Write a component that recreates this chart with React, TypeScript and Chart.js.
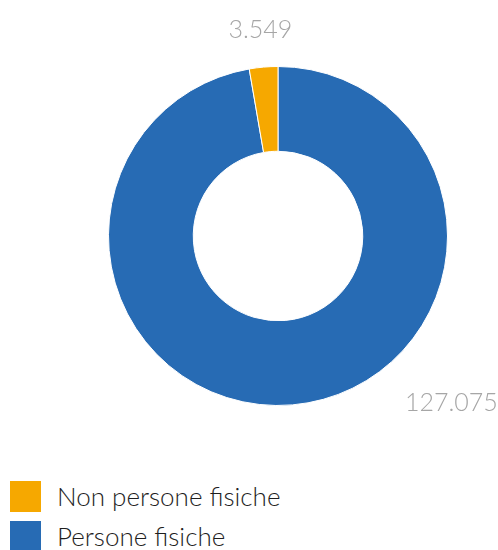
import React, { useEffect, useRef } from "react";
import { Chart, registerables } from "chart.js";

Chart.register(...registerables);

const categories = ["Persone fisiche", "Non persone fisiche"];
const values = [127075, 3549];
const valueLabels = ["127.075", "3.549"];
const colors = ["#276bb4", "#f6a800"];
// legend order (as shown in the reference)
const legendOrder = [1, 0];

const labelPlugin = {
  id: "outerLabels",
  afterDatasetsDraw(chart: any) {
    const ctx = chart.ctx;
    const meta = chart.getDatasetMeta(0);
    ctx.save();
    ctx.font = "300 25px Lato, 'Open Sans', sans-serif";
    ctx.fillStyle = "#a6a6a6";
    ctx.textAlign = "center";
    ctx.textBaseline = "middle";
    meta.data.forEach((arc: any, i: number) => {
      const { x, y, startAngle, endAngle, outerRadius } = arc.getProps(
        ["x", "y", "startAngle", "endAngle", "outerRadius"],
        true
      );
      let angle = (startAngle + endAngle) / 2;
      let dist = outerRadius + 37;
      if (i === 0) {
        // best-fit placement for the large slice (bottom-right)
        angle = Math.PI / 4 - 0.02;
        dist = outerRadius + 71;
      }
      ctx.fillText(valueLabels[i], x + Math.cos(angle) * dist, y + Math.sin(angle) * dist);
    });
    ctx.restore();
  },
};

export default function App() {
  const ref = useRef<HTMLCanvasElement>(null);
  useEffect(() => {
    document.documentElement.style.overflow = "hidden";
    document.body.style.margin = "0";
    if (!ref.current) return;
    const chart = new Chart(ref.current, {
      type: "doughnut",
      data: {
        labels: categories,
        datasets: [
          {
            data: values,
            backgroundColor: colors,
            borderColor: "#ffffff",
            borderWidth: 1,
          },
        ],
      },
      options: {
        responsive: false,
        animation: false,
        cutout: "50%",
        layout: { padding: { left: 100, right: 50, top: 58, bottom: 52 } },
        plugins: {
          legend: { display: false },
          tooltip: { enabled: false },
        },
      },
      plugins: [labelPlugin],
    });
    return () => chart.destroy();
  }, []);

  return (
    <div
      style={{
        width: 490,
        height: 542,
        padding: "8px 0 0 8px",
        fontFamily: "Lato, 'Open Sans', sans-serif",
      }}
    >
      <canvas ref={ref} width={490} height={450} style={{ display: "block" }} />
      <div style={{ marginTop: 18, paddingLeft: 2 }}>
        {legendOrder.map((i) => (
          <div
            key={i}
            style={{ display: "flex", alignItems: "center", height: 40 }}
          >
            <span
              style={{
                display: "inline-block",
                width: 31,
                height: 31,
                background: colors[i],
                marginRight: 16,
                flexShrink: 0,
              }}
            />
            <span style={{ fontSize: 26, fontWeight: 300, color: "#1e1e1e", lineHeight: "40px" }}>
              {categories[i]}
            </span>
          </div>
        ))}
      </div>
    </div>
  );
}
